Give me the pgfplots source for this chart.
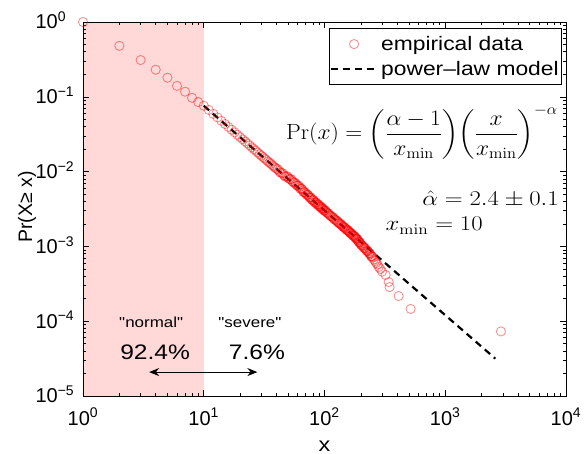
\RequirePackage{fix-cm}
\documentclass[border=0pt]{standalone}
\usepackage{exscale}
\usepackage[no-math]{fontspec}
\setmainfont{Liberation Sans}
\newfontfamily\wide{Liberation Sans}[FakeStretch=1.17]
\usepackage{graphicx}
\usepackage{pgfplots}
\pgfplotsset{compat=1.18}
\usetikzlibrary{arrows.meta}
\definecolor{shade}{RGB}{255,216,216}
\begin{document}
\begin{tikzpicture}
\path[use as bounding box] (-83bp,-58bp) rectangle (502bp,396bp);
\begin{axis}[
  xmode=log, ymode=log,
  scale only axis, width=483bp, height=374bp,
  xmin=1, xmax=10000, ymin=1e-5, ymax=1,
  clip=false, axis on top,
  axis line style={black, line width=0.7bp},
  tick style={black, line width=0.6bp},
  major tick length=6bp, minor tick length=3.5bp,
  xtick={1,10,100,1000,10000},
  xticklabels={10\textsuperscript{0},10\textsuperscript{1},10\textsuperscript{2},10\textsuperscript{3},10\textsuperscript{4}},
  ytick={1e-5,1e-4,1e-3,1e-2,1e-1,1},
  yticklabels={10\rlap{\smash{\textsuperscript{−5}}},10\rlap{\smash{\textsuperscript{−4}}},10\rlap{\smash{\textsuperscript{−3}}},10\rlap{\smash{\textsuperscript{−2}}},10\rlap{\smash{\textsuperscript{−1}}},10\rlap{\smash{\textsuperscript{0}}}},
  ticklabel style={font=\fontsize{20bp}{24bp}\selectfont},
  xticklabel style={inner sep=0pt, anchor=north, yshift=-12bp},
  yticklabel style={inner sep=0pt, anchor=east, xshift=-25bp},
  xlabel={x},
  ylabel={Pr(X≥ x)},
  xlabel style={font=\wide\fontsize{20bp}{24bp}\selectfont, inner sep=0pt, at={(axis description cs:0.5,-0.1337)}, anchor=center},
  ylabel style={font=\fontsize{19.5bp}{24bp}\selectfont, at={(axis description cs:-0.1159,0.505)}, anchor=center},
  legend style={at={(0.9917,0.984)}, anchor=north east, draw=black, line width=0.6bp,
    font=\wide\fontsize{19.5bp}{26bp}\selectfont, inner xsep=1bp, inner ysep=6bp, row sep=5bp,
    cells={anchor=west}},
  legend image code/.code={\draw[mark repeat=2,mark phase=2,#1] plot coordinates {(0bp,0bp) (23bp,0bp) (47bp,0bp)};},
]
\addplot[fill=shade, draw=none, forget plot] coordinates {(1,1e-5) (10,1e-5) (10,1) (1,1)} \closedcycle;

\addplot[only marks, mark=o, mark size=4.6bp, line width=0.85bp,
  mark options={draw=red, draw opacity=0.45}] coordinates {
(1,1) (2,0.48) (3,0.31) (4,0.23) (5,0.18) (6,0.14) (7,0.117) (8,0.097) (9,0.085)
(10,0.076) (11,0.0668) (12,0.0592) (13,0.0530) (14,0.0477) (15,0.0433) (16,0.0396)
(17,0.0363) (18,0.0335) (19,0.0310) (20,0.0289) (21,0.0270) (22,0.0253) (23,0.0238)
(24,0.0224) (25,0.0211) (26,0.0200) (27,0.0190) (28,0.0180) (29,0.0171) (30,0.0163)
(31,0.0156) (32,0.0149) (33,0.0143) (34,0.0137) (35,0.0132) (36,0.0127) (37,0.0122)
(38,0.0117) (39,0.0113) (40,0.0109) (41,0.0108) (42,0.0102) (43,0.0097) (44,0.0096) (45,0.0095)
(46,0.0090) (47,0.0086) (48,0.0086) (49,0.0087) (50,0.0083) (51,0.0080) (52,0.0079) (53,0.0079)
(54,0.0075) (55,0.0072) (56,0.0071) (57,0.0071) (58,0.0068) (59,0.0065) (60,0.0065) (61,0.0065)
(62,0.0062) (63,0.0059) (64,0.0059) (65,0.0059) (66,0.0056) (67,0.0053) (68,0.0053) (69,0.0053)
(70,0.0051) (71,0.0049) (72,0.0049) (73,0.0049) (74,0.0047) (75,0.0045) (76,0.0045) (77,0.0045)
(78,0.00432) (79,0.00415) (80,0.00416) (81,0.00418) (82,0.00401) (83,0.00385) (84,0.00388) (85,0.00390)
(86,0.00375) (87,0.00360) (88,0.00363) (89,0.00366) (90,0.00351) (91,0.00338) (92,0.00341) (93,0.00344)
(94,0.00331) (95,0.00319) (96,0.00321) (97,0.00324) (98,0.00312) (99,0.00300) (100,0.00303)
(101,0.00305) (102,0.00295) (104,0.00286) (105,0.00283) (107,0.00279) (108,0.00272) (110,0.00265)
(111,0.00258) (113,0.00255) (115,0.00249) (117,0.00247) (118,0.00240) (120,0.00235) (121,0.00228)
(123,0.00227) (125,0.00222) (127,0.00220) (128,0.00214) (130,0.00210) (131,0.00205) (133,0.00203)
(135,0.00199) (137,0.00199) (138,0.00193) (140,0.00189) (142,0.00183) (143,0.00184) (145,0.00180)
(147,0.00180) (148,0.00175) (150,0.00172) (152,0.00166) (153,0.00167) (155,0.00164) (157,0.00165)
(158,0.00160) (160,0.00157) (162,0.00152) (163,0.00153) (165,0.00150) (167,0.00150) (168,0.00146)
(170,0.00144) (172,0.00139) (173,0.00140) (175,0.00138) (177,0.00138) (178,0.00134) (180,0.00132)
(182,0.00127) (183,0.00128) (185,0.00126) (187,0.00126) (188,0.00122) (190,0.00119) (192,0.00115)
(193,0.00115) (195,0.00113) (197,0.00113) (198,0.00109) (200,0.00107) (202,0.00104) (205,0.00102)
(207,0.00102) (210,0.00099) (212,0.00095) (215,0.00095) (218,0.00094) (220,0.00091) (223,0.00087)
(225,0.00088) (228,0.00087) (230,0.00085) (233,0.00081) (235,0.00081) (238,0.00080) (240,0.00078)
(243,0.00074) (245,0.00074) (248,0.00073) (250,0.00071)
(255,0.00067) (262,0.00064) (268,0.00060) (275,0.00057) (281,0.00053) (290,0.00050)
(300,0.00046) (321,0.000415) (340,0.000334) (346,0.000286) (411,0.000217) (517,0.000146) (2890,0.000073)
};
\addlegendentry{empirical data}

\addplot[black, line width=2.2bp, dash pattern=on 7bp off 5bp] coordinates {(10,0.076) (2600,3.16e-5)};
\addlegendentry{power–law model}

\node[anchor=base east, inner sep=0pt, font=\fontsize{22bp}{26bp}\selectfont] at (axis cs:8590,0.0265)
  {\scalebox{1.07}[1]{$\displaystyle \mathrm{Pr}(x) = \biggl(\frac{\alpha-1}{x_{\min}}\biggr)\biggl(\frac{x}{x_{\min}}\biggr)^{-\alpha}$}};
\node[anchor=base east, inner sep=0pt, font=\fontsize{21bp}{26bp}\selectfont] at (axis cs:8750,3.57e-3)
  {\scalebox{1.18}[1]{$\hat{\alpha} = 2.4 \pm 0.1$}};
\node[anchor=base west, inner sep=0pt, font=\fontsize{21bp}{26bp}\selectfont] at (axis cs:320,1.61e-3)
  {\scalebox{1.18}[1]{$x_{\min} = 10$}};

\node[anchor=base, font=\wide\fontsize{14.5bp}{17bp}\selectfont] at (axis cs:3.67,8.36e-5) {"normal"};
\node[anchor=base, font=\wide\fontsize{14.5bp}{17bp}\selectfont] at (axis cs:24.1,8.36e-5) {"severe"};
\node[anchor=base, font=\wide\fontsize{21bp}{26bp}\selectfont] at (axis cs:3.96,3.12e-5) {92.4\%};
\node[anchor=base, font=\wide\fontsize{21bp}{26bp}\selectfont] at (axis cs:27.6,3.12e-5) {7.6\%};
\draw[line width=1bp, {Stealth[length=10bp,width=8bp]}-{Stealth[length=10bp,width=8bp]}]
  (axis cs:3.53,2.09e-5) -- (axis cs:27.8,2.09e-5);
\end{axis}
\end{tikzpicture}
\end{document}
